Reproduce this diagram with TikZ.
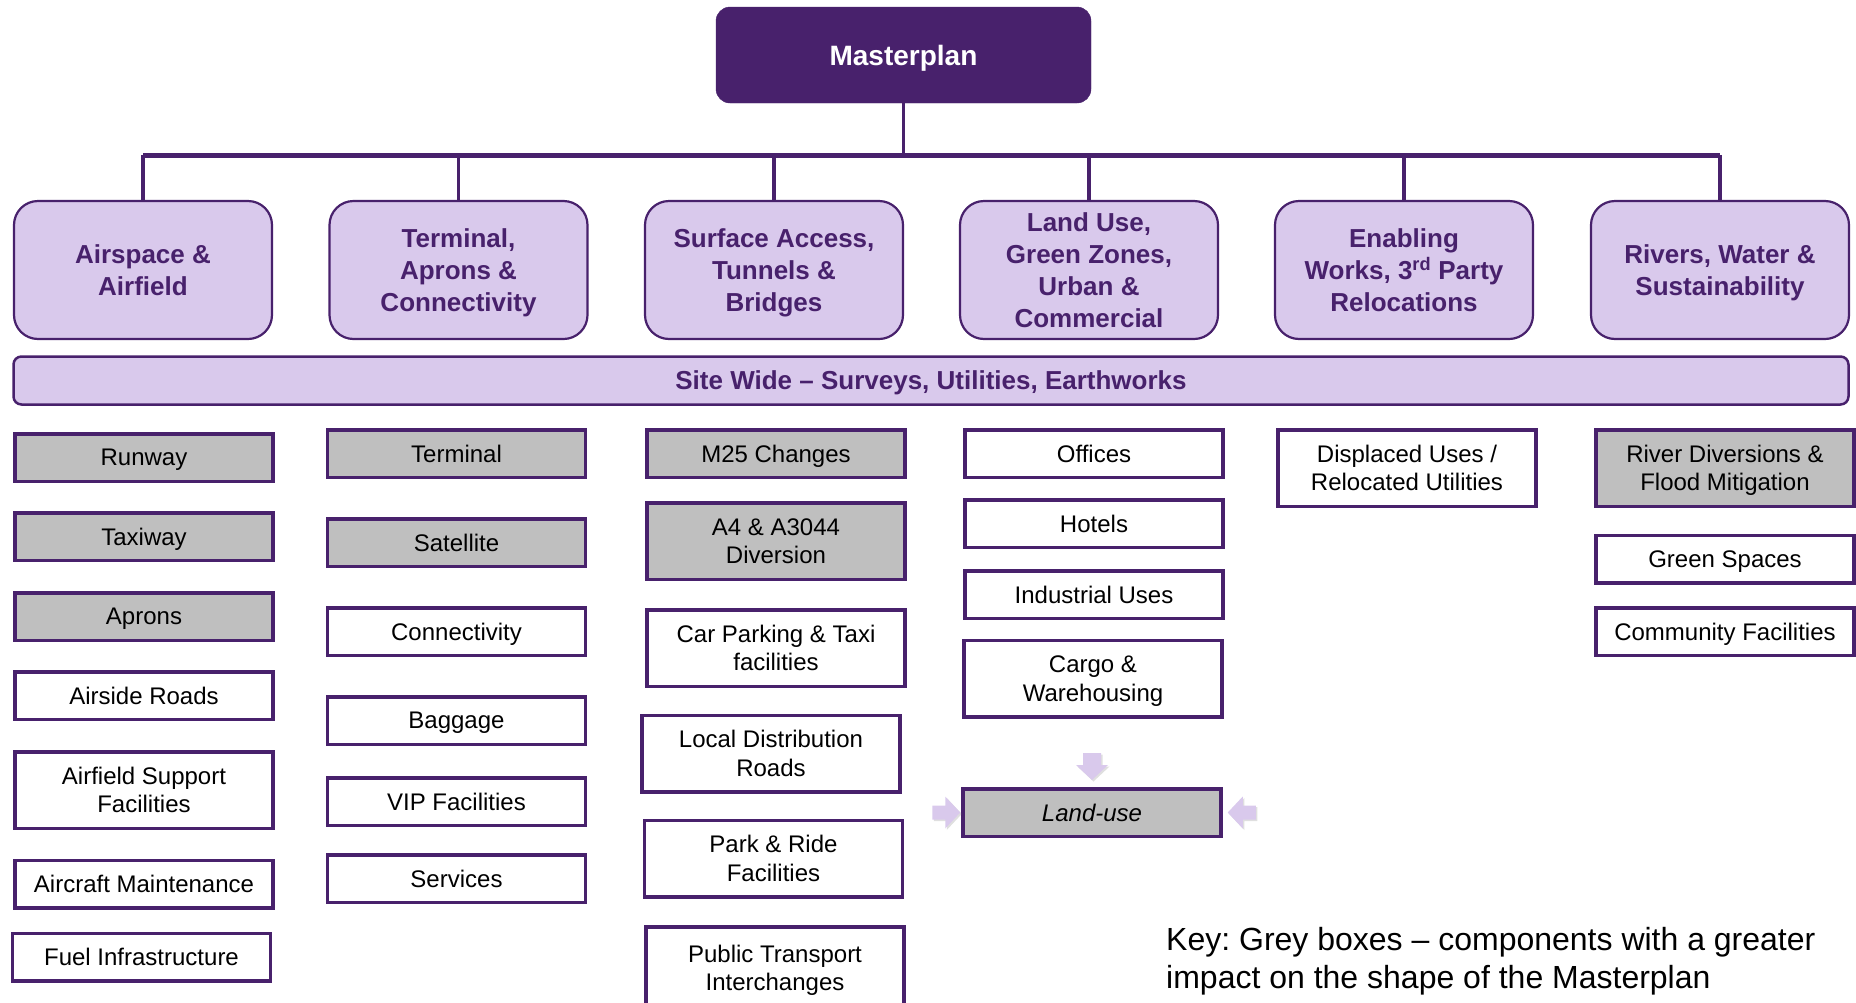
\documentclass[tikz,border=0pt]{standalone}
\usepackage{fontspec}
\setmainfont{Liberation Sans}
\usetikzlibrary{positioning, calc, shadows}

\definecolor{mpurple}{HTML}{48216C}
\definecolor{mlilac}{HTML}{D9C9EC}
\definecolor{mgrey}{HTML}{BFBFBF}

\begin{document}
\begin{tikzpicture}[x=1pt, y=-1pt,
    master/.style={draw=mpurple, fill=mpurple, rounded corners=14pt, text=white,
                   font=\fontsize{28}{34}\selectfont\bfseries, text depth=0pt,
                   minimum width=375pt, minimum height=96pt},
    theme/.style={draw=mpurple, line width=2.2pt, fill=mlilac, rounded corners=24pt,
                  text=mpurple, align=center, inner sep=0pt, text depth=0pt,
                  font=\fontsize{26}{32}\selectfont\bfseries,
                  minimum width=258pt, minimum height=138pt},
    band/.style={draw=mpurple, line width=2.5pt, fill=mlilac, rounded corners=8pt,
                 text=mpurple, font=\fontsize{26}{32}\selectfont\bfseries, text depth=0pt,
                 minimum width=1835pt, minimum height=48pt},
    item/.style={draw=mpurple, line width=3.5pt, fill=white, align=center, inner sep=0pt,
                 font=\fontsize{24}{28.5}\selectfont, text depth=0pt,
                 minimum width=258pt, minimum height=47.5pt},
    major/.style={fill=mgrey},
    tall/.style={minimum height=76.5pt},
    trunk/.style={draw=mpurple, line width=5pt},
    branch/.style={draw=mpurple, line width=3.5pt},
    pointer/.style={fill=mlilac, drop shadow={opacity=0.25, shadow xshift=1.5pt, shadow yshift=-1.5pt}}
]
    \useasboundingbox (0,0) rectangle (1856,1002);

    % --- Top ---
    \node[master] (mp) at (903.5,55) {Masterplan};

    % --- Themes ---
    \node[theme] (air)   at (143,  270) {Airspace \&\\Airfield};
    \node[theme] (term)  at (458.5,270) {Terminal,\\Aprons \&\\Connectivity};
    \node[theme] (surf)  at (774,  270) {Surface Access,\\Tunnels \&\\Bridges};
    \node[theme] (land)  at (1089, 270) {Land Use,\\Green Zones,\\Urban \&\\Commercial};
    \node[theme] (enab)  at (1404, 270) {Enabling\\Works, 3\textsuperscript{rd} Party\\Relocations};
    \node[theme] (river) at (1720, 270) {Rivers, Water \&\\Sustainability};

    % --- Tree ---
    \coordinate (bus) at (903.5,155);
    \draw[branch] (mp.south) -- (bus);
    \draw[trunk] (air.north |- bus) -- (river.north |- bus);
    \foreach \t in {air, term, surf, land, enab, river}
        \draw[branch] (\t.north |- bus) -- (\t.north);

    % --- Site wide ---
    \node[band] (site) at (931,380.5) {Site Wide -- Surveys, Utilities, Earthworks};

    % --- Airspace & Airfield ---
    \node[item, major] (runway) at (144,457.5) {Runway};
    \node[item, major] (taxi)   at (144,536.5) {Taxiway};
    \node[item, major] (aprons) at (144,616.5) {Aprons};
    \node[item]        (roads)  at (144,695.5) {Airside Roads};
    \node[item, tall]  (afs)    at (144,790)   {Airfield Support\\Facilities};
    \node[item]        (maint)  at (144,884)   {Aircraft Maintenance};
    \node[item]        (fuel)   at (141.5,957) {Fuel Infrastructure};

    % --- Terminal, Aprons & Connectivity ---
    \node[item, major] (termb)  at (456.5,453.5) {Terminal};
    \node[item, major] (sat)    at (456.5,542.5) {Satellite};
    \node[item]        (conn)   at (456.5,631.5) {Connectivity};
    \node[item]        (bag)    at (456.5,720.5) {Baggage};
    \node[item]        (vip)    at (456.5,801.5) {VIP Facilities};
    \node[item]        (serv)   at (456.5,878.5) {Services};

    % --- Surface Access ---
    \node[item, major]       (m25)  at (776,453.5)   {M25 Changes};
    \node[item, major, tall] (a4)   at (776,541)     {A4 \& A3044\\Diversion};
    \node[item, tall]        (park) at (776,648)     {Car Parking \& Taxi\\facilities};
    \node[item, tall]        (ldr)  at (771,753.5)   {Local Distribution\\Roads};
    \node[item, tall]        (pr)   at (773.5,858.5) {Park \& Ride\\Facilities};
    \node[item, tall, minimum height=82pt] (pti) at (775,968) {Public Transport\\Interchanges};

    % --- Land Use ---
    \node[item]       (off)   at (1094,453.5) {Offices};
    \node[item]       (hot)   at (1094,523.5) {Hotels};
    \node[item]       (ind)   at (1094,594.5) {Industrial Uses};
    \node[item, tall] (cargo) at (1093,678.5) {Cargo \&\\Warehousing};
    \node[item, major, font=\fontsize{24}{28.5}\selectfont\itshape] (lu) at (1092,812.5) {Land-use};

    % --- Pointers into land-use ---
    \fill[pointer] ($(lu.north)+(-9,-34)$) -- ++(18,0) -- ++(0,12) -- ++(7,0)
        -- ++(-16,15) -- ++(-16,-15) -- ++(7,0) -- cycle;
    \fill[pointer] ($(lu.west)+(-29,-7)$) -- ++(13,0) -- ++(0,-9) -- ++(15,16)
        -- ++(-15,16) -- ++(0,-9) -- ++(-13,0) -- cycle;
    \fill[pointer] ($(lu.east)+(33,-7)$) -- ++(-13,0) -- ++(0,-9) -- ++(-15,16)
        -- ++(15,16) -- ++(0,-9) -- ++(13,0) -- cycle;

    % --- Enabling works ---
    \node[item, tall] (disp) at (1407,468) {Displaced Uses /\\Relocated Utilities};

    % --- Rivers ---
    \node[item, major, tall] (rivd)  at (1725,468)   {River Diversions \&\\Flood Mitigation};
    \node[item]              (green) at (1725,559)   {Green Spaces};
    \node[item]              (comm)  at (1725,631.5) {Community Facilities};

    % --- Key ---
    \node[anchor=west, align=left, inner sep=0pt, font=\fontsize{32}{38}\selectfont]
        (key) at (1166,961) {\frenchspacing Key: Grey boxes -- components with a greater\\impact on the shape of the Masterplan};
\end{tikzpicture}
\end{document}
